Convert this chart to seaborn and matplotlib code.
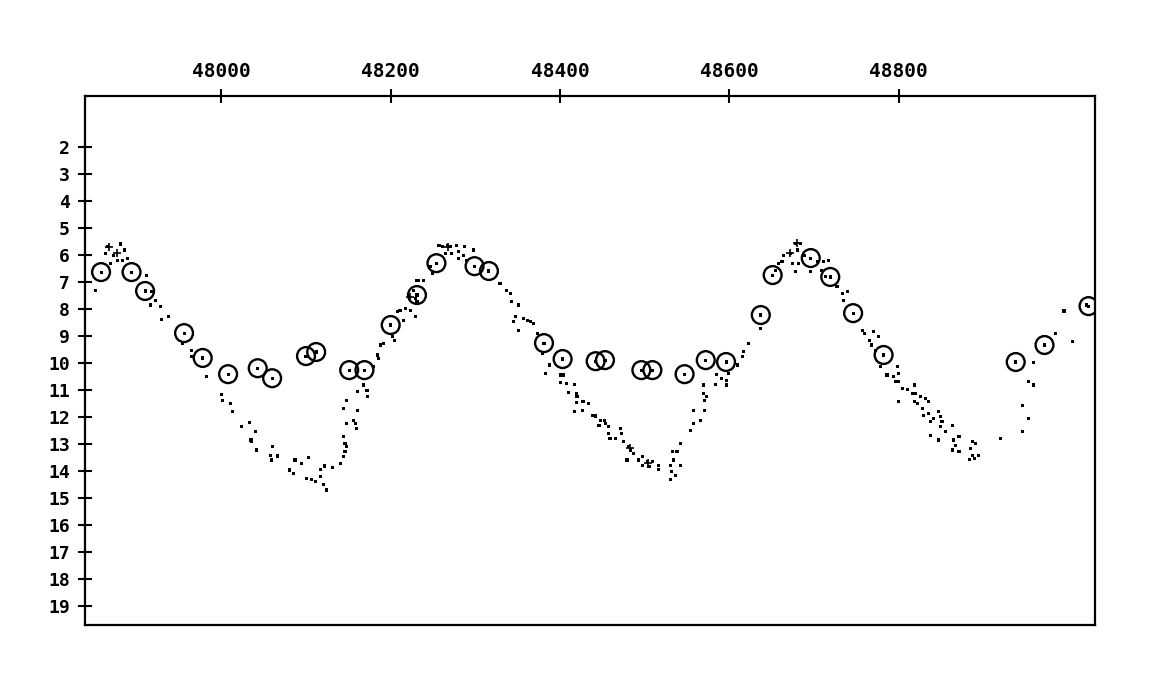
import numpy as np
import pandas as pd
import matplotlib
matplotlib.use("Agg")
import matplotlib.pyplot as plt
import seaborn as sns

# visual estimates (small dots): Julian day (minus 2400000) and magnitude
dot_jd = [47866, 47851, 47881, 47886, 47863, 47873, 47877, 47869, 47883, 47889,
          47912, 47918, 47922, 47916, 47928, 47929, 47938, 47954, 47965, 47965,
          47983, 48000, 48001, 48011, 48013, 48024, 48033, 48035,
          48040, 48036, 48042, 48060, 48058, 48066, 48059, 48087, 48095, 48103,
          48081, 48085, 48101, 48107, 48111, 48117, 48121, 48124, 48117, 48122,
          48131, 48141, 48144, 48146, 48148, 48144, 48146, 48148, 48156, 48160,
          48158, 48144, 48148, 48161, 48161, 48168, 48172, 48173, 48180, 48184,
          48186, 48192, 48188, 48202, 48204, 48208, 48211, 48215, 48217, 48223,
          48221, 48227, 48229, 48229, 48231, 48231,
          48233, 48239, 48249, 48247, 48257, 48261, 48267, 48270, 48265, 48272,
          48278, 48280, 48287, 48286, 48290, 48280, 48298, 48329, 48337, 48341,
          48343, 48351, 48347, 48345, 48351, 48357, 48361, 48365, 48369, 48373,
          48379, 48387, 48383, 48400, 48404, 48400, 48408, 48417, 48410, 48419,
          48420, 48419, 48426, 48417, 48426,
          48428, 48434, 48438, 48442, 48448, 48452, 48446, 48454, 48457, 48457,
          48459, 48465, 48471, 48473, 48475, 48481, 48483, 48479, 48487, 48493,
          48497, 48497, 48503, 48505, 48509, 48516, 48516, 48530, 48532, 48530,
          48536, 48542, 48534, 48533, 48538, 48542, 48554, 48558, 48566, 48558,
          48570, 48570, 48573, 48569, 48569, 48583, 48585, 48591, 48597, 48597,
          48599, 48609, 48615, 48617, 48623,
          48637, 48654, 48658, 48662, 48664, 48672, 48678, 48680, 48684, 48674,
          48678, 48682, 48688, 48696, 48704, 48711, 48717, 48709, 48713, 48727,
          48733, 48735, 48739, 48757, 48759, 48765, 48770, 48776, 48768, 48772,
          48778, 48786, 48798, 48800, 48794, 48796, 48800, 48804, 48810, 48816,
          48800, 48818,
          48818, 48820, 48822, 48826, 48831, 48835, 48828, 48829, 48835, 48841,
          48847, 48849, 48837, 48851, 48855, 48863, 48849, 48837, 48847, 48865,
          48871, 48867, 48863, 48871, 48887, 48890, 48885, 48887, 48894, 48883,
          48889, 48920, 48946, 48953, 48946, 48953, 48959, 48959, 48995, 49005,
          48985, 49022]
dot_mag = [5.69, 7.30, 5.59, 5.81, 5.94, 6.00, 6.19, 6.31, 6.19, 6.11,
           6.74, 7.36, 7.67, 7.85, 7.91, 8.38, 8.29, 9.27, 9.52, 9.74,
           10.51, 11.15, 11.37, 11.48, 11.80, 12.36, 12.21, 12.85,
           12.54, 12.91, 13.22, 13.10, 13.41, 13.44, 13.59, 13.59, 13.71, 13.49,
           13.96, 14.09, 14.27, 14.31, 14.40, 14.21, 14.48, 14.70, 13.94, 13.81,
           13.86, 13.71, 13.47, 13.29, 13.10, 12.73, 12.97, 12.23, 12.11, 12.42,
           12.23, 11.68, 11.37, 11.74, 11.06, 10.81, 11.00, 11.25, 10.14, 9.70,
           9.83, 9.27, 9.33, 9.03, 9.15, 8.10, 8.04, 8.41, 7.97, 8.04,
           7.54, 7.30, 7.60, 8.29, 6.93, 7.73,
           6.93, 6.93, 6.68, 6.43, 5.63, 5.69, 5.63, 5.69, 5.94, 5.94,
           5.63, 5.88, 5.67, 6.00, 6.19, 6.12, 5.81, 7.05, 7.30, 7.42,
           7.73, 7.85, 8.29, 8.47, 8.78, 8.34, 8.41, 8.47, 8.53, 8.90,
           9.64, 10.07, 10.38, 10.44, 10.44, 10.73, 10.75, 10.79, 11.10, 11.12,
           11.25, 11.47, 11.43, 11.80, 11.74,
           11.43, 11.49, 11.93, 11.96, 12.11, 12.11, 12.30, 12.23, 12.36, 12.60,
           12.79, 12.79, 12.42, 12.60, 12.91, 13.10, 13.22, 13.59, 13.34, 13.59,
           13.47, 13.78, 13.66, 13.84, 13.66, 13.78, 13.94, 13.78, 14.03, 14.31,
           14.15, 13.78, 13.59, 13.29, 13.29, 12.97, 12.48, 12.23, 12.14, 11.74,
           11.74, 11.37, 11.25, 11.12, 10.81, 10.79, 10.41, 10.57, 10.63, 10.81,
           10.38, 10.07, 9.77, 9.58, 9.27,
           8.71, 6.56, 6.31, 6.25, 6.00, 5.94, 5.57, 5.81, 5.57, 6.31,
           6.62, 6.31, 6.00, 6.62, 6.25, 6.25, 6.19, 6.56, 6.80, 7.17,
           7.42, 7.67, 7.36, 8.78, 8.90, 9.15, 8.84, 9.03, 9.33, 9.52,
           10.14, 10.44, 10.14, 10.38, 10.51, 10.69, 10.69, 10.94, 10.97, 11.12,
           11.43, 11.43,
           10.81, 11.12, 11.49, 11.25, 11.31, 11.43, 11.68, 11.93, 11.86, 12.05,
           11.80, 11.99, 12.17, 12.17, 12.54, 12.30, 12.36, 12.67, 12.85, 12.85,
           12.73, 13.04, 13.22, 13.29, 12.91, 12.97, 13.16, 13.41, 13.41, 13.57,
           13.53, 12.79, 12.54, 12.05, 11.56, 10.69, 10.81, 9.99, 8.07, 9.19,
           8.90, 7.85]

# second kind of estimate (open circles)
circ_jd = [47858, 47894, 47910, 47956, 47978, 48008, 48043, 48060, 48100, 48112,
           48151, 48169, 48200, 48231, 48254, 48299, 48316, 48381, 48403, 48442,
           48453, 48496, 48509, 48547, 48572, 48596, 48637, 48651, 48696, 48719,
           48746, 48782, 48938, 48972, 49024]
circ_mag = [6.63, 6.63, 7.33, 8.89, 9.81, 10.41, 10.19, 10.56, 9.74, 9.59,
            10.26, 10.26, 8.59, 7.48, 6.30, 6.41, 6.59, 9.26, 9.85, 9.93,
            9.89, 10.26, 10.26, 10.41, 9.89, 9.96, 8.22, 6.74, 6.11, 6.81,
            8.15, 9.70, 9.96, 9.33, 7.89]

# a few "+" marks near maxima
plus_jd = [47867, 47877, 48268, 48680, 48672, 48483, 48504, 48223]
plus_mag = [5.70, 5.93, 5.70, 5.56, 5.93, 13.15, 13.70, 7.56]

x_ticks = [48000, 48200, 48400, 48600, 48800]
y_ticks = list(range(2, 20))

dots = pd.DataFrame({"jd": dot_jd, "mag": dot_mag})
circs = pd.DataFrame({"jd": circ_jd, "mag": circ_mag})
pluses = pd.DataFrame({"jd": plus_jd, "mag": plus_mag})

sns.set_style("white")
plt.rcParams["font.family"] = ["DejaVu Sans Mono", "DejaVu Sans"]

fig = plt.figure(figsize=(11.64, 6.96), dpi=100)
ax = fig.add_axes([0.073, 0.102, 0.868, 0.760])

sns.scatterplot(data=dots, x="jd", y="mag", ax=ax, marker="s", s=5,
                color="black", edgecolor="none", linewidth=0)
sns.scatterplot(data=circs, x="jd", y="mag", ax=ax, marker="o", s=165,
                facecolor="none", edgecolor="black", linewidth=1.7)
sns.scatterplot(data=circs, x="jd", y="mag", ax=ax, marker="s", s=5,
                color="black", edgecolor="none", linewidth=0)
sns.scatterplot(data=pluses, x="jd", y="mag", ax=ax, marker="+", s=40,
                color="black", linewidth=1.2)

ax.set_xlim(47839, 49032)
ax.set_ylim(19.70, 0.11)
ax.set_xlabel("")
ax.set_ylabel("")

ax.xaxis.tick_top()
ax.set_xticks(x_ticks)
ax.set_xticklabels([str(v) for v in x_ticks], fontsize=14, fontweight="bold")
ax.set_yticks(y_ticks)
ax.set_yticklabels([str(v) for v in y_ticks], fontsize=13, fontweight="bold")
ax.tick_params(axis="x", direction="inout", length=10, width=1.5, colors="black",
               top=True, bottom=False, labeltop=True, labelbottom=False, pad=6)
ax.tick_params(axis="y", direction="inout", length=10, width=1.5, colors="black",
               left=True, right=False, pad=6)

for sp in ax.spines.values():
    sp.set_visible(True)
    sp.set_color("black")
    sp.set_linewidth(1.6)

fig.savefig("out.png", dpi=100, facecolor="white")
